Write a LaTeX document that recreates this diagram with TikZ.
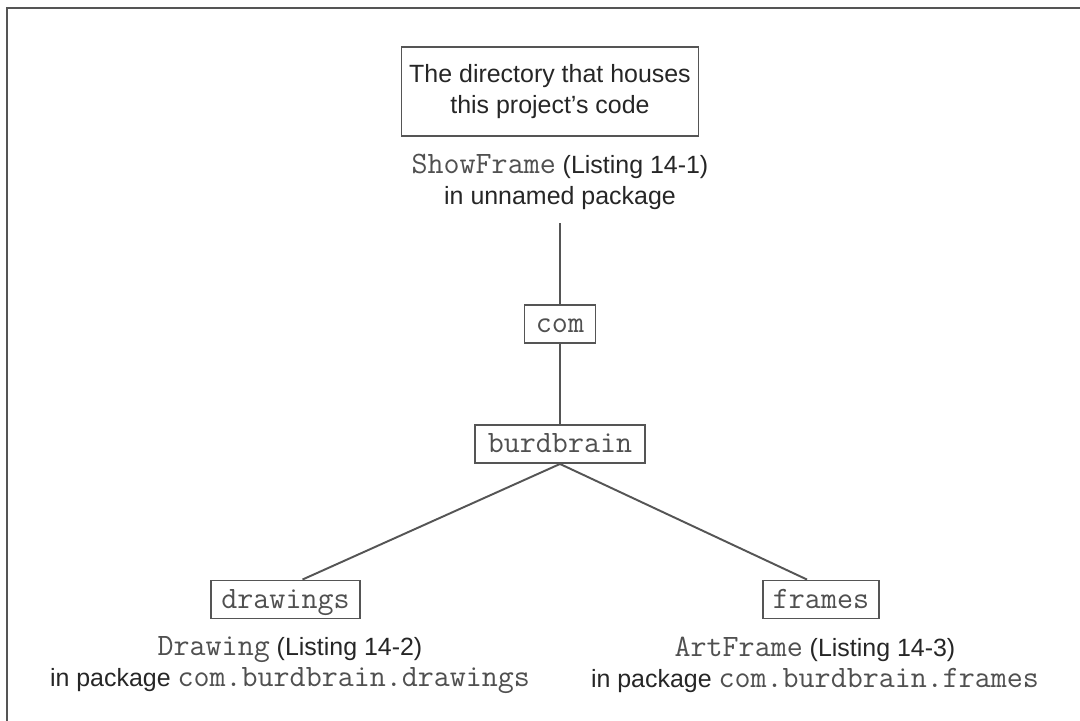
\documentclass[tikz,border=0pt]{standalone}
\usepackage{fontspec}
\setmainfont{Liberation Sans}
\definecolor{txt}{HTML}{262626}
\definecolor{mono}{HTML}{505050}
\definecolor{ln}{HTML}{555555}
\newcommand{\mt}[1]{{\fontsize{17.7}{17.5}\selectfont\ttfamily\color{mono}#1}}
\tikzset{
  lbl/.style={font=\fontsize{14.2}{17.5}\selectfont, text=txt, align=center, inner sep=0pt},
  dirbox/.style={draw=ln, line width=1.1pt, inner sep=0pt, font=\fontsize{17.7}{17.5}\selectfont\ttfamily, text=mono, minimum height=0.76cm, text height=0.38cm, text depth=0.04cm},
  conn/.style={draw=ln, line width=1.1pt}
}
\begin{document}
\begin{tikzpicture}[x=0.02cm,y=-0.02cm]
\useasboundingbox (0,0) rectangle (1080,721);
\fill[white] (0,0) rectangle (1080,721);
\draw[ln, line width=1.3pt] (7,721) -- (7,8) -- (1080,8);
\node[draw=ln, line width=1.1pt, minimum width=5.94cm, minimum height=1.78cm, lbl] (top) at (550,91.5) {The directory that houses\\this project's code};
\node[lbl] (show) at (560,182) {\mt{ShowFrame} (Listing 14-1)\\in unnamed package};
\coordinate (c0) at (560,223);
\node[dirbox, minimum width=1.42cm] (com) at (560,324) {com};
\node[dirbox, minimum width=3.4cm] (burd) at (560,444) {burdbrain};
\node[dirbox, minimum width=2.98cm] (dr) at (285.5,599.5) {drawings};
\node[dirbox, minimum width=2.32cm] (fr) at (821,599.5) {frames};
\node[lbl] (drcap) at (290,665) {\mt{Drawing} (Listing 14-2)\\in package \mt{com.burdbrain.drawings}};
\node[lbl] (frcap) at (815,665) {\mt{ArtFrame} (Listing 14-3)\\in package \mt{com.burdbrain.frames}};
\draw[conn] (c0) -- (com.north);
\draw[conn] (com.south) -- (burd.north);
\draw[conn] (burd.south) -- ([xshift=0.34cm]dr.north);
\draw[conn] (burd.south) -- ([xshift=-0.28cm]fr.north);
\end{tikzpicture}
\end{document}
